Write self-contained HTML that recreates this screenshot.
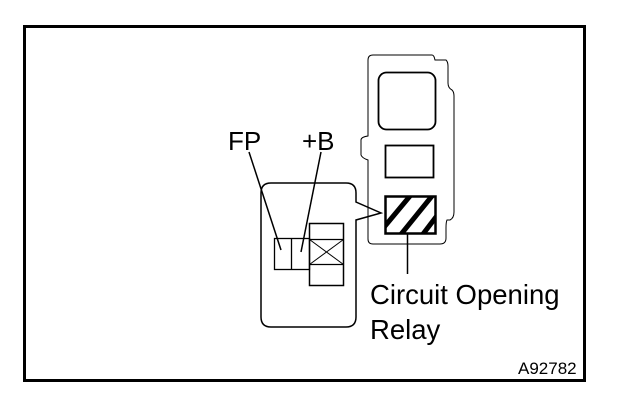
<!DOCTYPE html>
<html><head><style>body{margin:0;background:#fff}svg{display:block}</style></head><body>
<svg width="624" height="408" viewBox="0 0 624 408" xmlns="http://www.w3.org/2000/svg" font-family="Liberation Sans, sans-serif">
<rect x="24.5" y="26.5" width="560" height="354" fill="none" stroke="#000" stroke-width="3"/>
<path d="M271 183 H346 Q356 183 356 193 V202 L381 213 L356 220 V317 Q356 327 346 327 H271 Q261 327 261 317 V193 Q261 183 271 183 Z" fill="none" stroke="#000" stroke-width="1.5"/>
<rect x="274.5" y="238.5" width="35" height="31" fill="none" stroke="#000" stroke-width="1.3"/>
<line x1="291.5" y1="238.5" x2="291.5" y2="269.5" stroke="#000" stroke-width="1.3"/>
<rect x="309.5" y="223.5" width="34" height="62" fill="none" stroke="#000" stroke-width="1.5"/>
<line x1="309.5" y1="239.5" x2="343.5" y2="239.5" stroke="#000" stroke-width="1.3"/>
<line x1="309.5" y1="264.5" x2="343.5" y2="264.5" stroke="#000" stroke-width="1.3"/>
<line x1="309.5" y1="239.5" x2="343.5" y2="264.5" stroke="#000" stroke-width="1"/>
<line x1="343.5" y1="239.5" x2="309.5" y2="264.5" stroke="#000" stroke-width="1"/>
<line x1="249" y1="152" x2="281" y2="250" stroke="#000" stroke-width="1.5"/>
<line x1="321" y1="152" x2="301" y2="252" stroke="#000" stroke-width="1.5"/>
<text x="228" y="150" font-size="26">FP</text>
<text x="302" y="150" font-size="26">+B</text>
<path d="M373 55 H432 Q434 55 435 60 H446 Q448 62 448 66 V83 Q448 88 452 90 Q454 92 454 96 V212 Q454 218 450 220 H447 Q446 222 446 228 V238 Q446 244 440 244 H373 Q368 244 368 239 V160 Q362 158 361 155 V140 Q361 137 368 136 V60 Q368 55 373 55 Z" fill="none" stroke="#000" stroke-width="1"/>
<rect x="378.5" y="72.5" width="57" height="57" rx="8" fill="none" stroke="#000" stroke-width="1.8"/>
<rect x="385.5" y="145.5" width="48" height="32" fill="none" stroke="#000" stroke-width="1.8"/>
<clipPath id="c"><rect x="386" y="197" width="49" height="36"/></clipPath>
<g clip-path="url(#c)" stroke="#000" stroke-width="5">
<line x1="380" y1="232" x2="410" y2="196"/>
<line x1="398" y1="238" x2="432" y2="196"/>
<line x1="420" y1="238" x2="452" y2="196"/>
</g>
<rect x="385.5" y="196.5" width="50" height="37" fill="none" stroke="#000" stroke-width="2.5"/>
<line x1="407.5" y1="234" x2="407.5" y2="274" stroke="#000" stroke-width="1.5"/>
<text x="370" y="304" font-size="27.5">Circuit Opening</text>
<text x="370" y="339" font-size="27.5">Relay</text>
<text x="518" y="374" font-size="17">A92782</text>
</svg>
</body></html>
